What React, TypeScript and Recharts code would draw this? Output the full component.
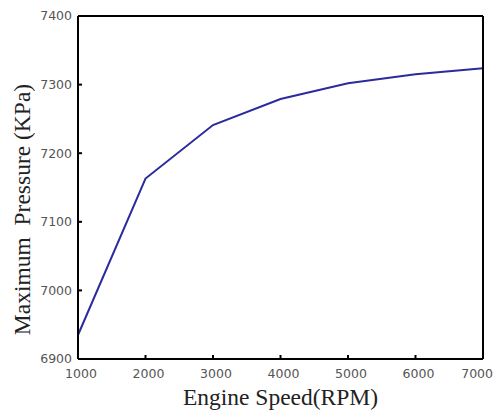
import React from "react";
import { LineChart, Line, XAxis, YAxis, Label } from "recharts";

const engineSpeed = [1000, 2000, 3000, 4000, 5000, 6000, 7000];
const maxPressure = [6935, 7163, 7241, 7279, 7302, 7315, 7324];
const xTicks = [1000, 2000, 3000, 4000, 5000, 6000, 7000];
const yTicks = [6900, 7000, 7100, 7200, 7300, 7400];

const data = engineSpeed.map((s, i) => ({ speed: s, pressure: maxPressure[i] }));

const tickFont = { fontFamily: "DejaVu Sans, sans-serif", fontSize: 12.5, fill: "#555" };
const axisLine = { stroke: "#000", strokeWidth: 2 };
const tickLine = { stroke: "#000", strokeWidth: 2 };
const titleFont = { fontFamily: "Liberation Serif, Times New Roman, serif", fontSize: 23.5, fill: "#222" };

const XTick = (props: any) => {
  const { x, y, payload, index } = props;
  const last = index === xTicks.length - 1;
  return (
    <text
      x={last ? x + 10 : x + 3}
      y={y}
      dy="0.71em"
      textAnchor={last ? "end" : "middle"}
      style={tickFont}
    >
      {payload.value}
    </text>
  );
};

const XTitle = (props: any) => {
  const vb = props.viewBox || { x: 0, y: 0, width: 0, height: 0 };
  return (
    <text x={vb.x + vb.width / 2} y={vb.y + vb.height - 9} textAnchor="middle" style={titleFont}>
      Engine Speed(RPM)
    </text>
  );
};

const YTitle = (props: any) => {
  const vb = props.viewBox || { x: 0, y: 0, width: 0, height: 0 };
  const cx = 22;
  const cy = vb.y + vb.height / 2 + 22;
  return (
    <text
      x={cx}
      y={cy}
      transform={`rotate(-90, ${cx}, ${cy})`}
      textAnchor="middle"
      dominantBaseline="central"
      style={{ ...titleFont, whiteSpace: "pre" }}
    >
      Maximum  Pressure (KPa)
    </text>
  );
};

export default function App() {
  return (
    <div style={{ position: "absolute", left: 0, top: 0, background: "#fff" }}>
      <LineChart width={494} height={414} data={data} margin={{ top: 15, right: 10, bottom: 0, left: 0 }}>
        <XAxis
          xAxisId="b"
          dataKey="speed"
          type="number"
          domain={[1000, 7000]}
          ticks={xTicks}
          height={55}
          axisLine={axisLine}
          tickLine={tickLine}
          tickSize={-4}
          tickMargin={14}
          tick={<XTick />}
          interval={0}
        >
          <Label content={<XTitle />} />
        </XAxis>
        <XAxis
          xAxisId="t"
          orientation="top"
          dataKey="speed"
          type="number"
          domain={[1000, 7000]}
          ticks={xTicks}
          height={1}
          axisLine={axisLine}
          tickLine={tickLine}
          tickSize={-4}
          tick={false}
        />
        <YAxis
          yAxisId="l"
          type="number"
          domain={[6900, 7400]}
          ticks={yTicks}
          width={78}
          axisLine={axisLine}
          tickLine={tickLine}
          tickSize={-4}
          tickMargin={10}
          tick={tickFont}
          interval={0}
        >
          <Label content={<YTitle />} />
        </YAxis>
        <YAxis
          yAxisId="r"
          orientation="right"
          type="number"
          domain={[6900, 7400]}
          ticks={yTicks}
          width={1}
          axisLine={axisLine}
          tickLine={tickLine}
          tickSize={-4}
          tick={false}
        />
        <Line
          xAxisId="b"
          yAxisId="l"
          type="linear"
          dataKey="pressure"
          stroke="#2b2b9e"
          strokeWidth={2}
          dot={false}
          isAnimationActive={false}
        />
      </LineChart>
    </div>
  );
}
